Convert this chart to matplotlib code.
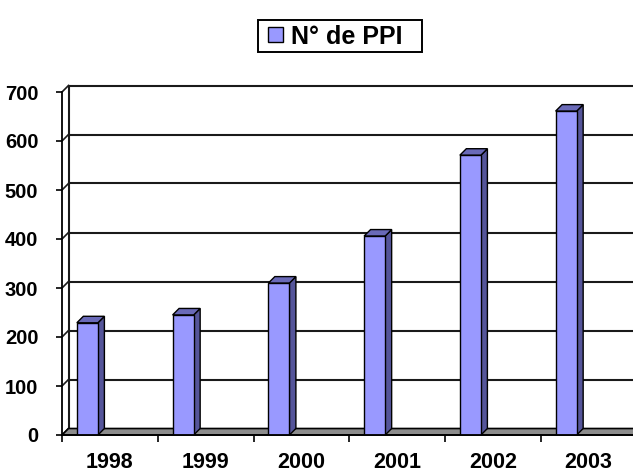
import matplotlib
matplotlib.use("Agg")
import matplotlib.pyplot as plt
from matplotlib.patches import Polygon, Rectangle

years = ["1998", "1999", "2000", "2001", "2002", "2003"]
ppi = [229, 245, 310, 406, 571, 661]
yticks = [0, 100, 200, 300, 400, 500, 600, 700]
legend_label = "N° de PPI"

FRONT = "#9999FF"
SIDE = "#55559A"
TOP = "#6A6AB8"

W, H = 633, 472
fig = plt.figure(figsize=(W / 100, H / 100), dpi=100)
fig.patch.set_facecolor("white")

ax_left, ax_right = 62, 636.5
ax_top, ax_bottom = 92, 435
ax = fig.add_axes([ax_left / W, 1 - ax_bottom / H,
                   (ax_right - ax_left) / W, (ax_bottom - ax_top) / H])
ax.set_xlim(-0.5, 5.5)
ax.set_ylim(0, 700)
ax.patch.set_alpha(0)

# pixel -> data offsets for the 3D depth
px_x = (ax_right - ax_left) / 6.0
px_y = (ax_bottom - ax_top) / 700.0
DEPTH = 6.5
ddx = DEPTH / px_x
ddy = DEPTH / px_y

# floor
floor = Polygon([(-0.5, 0), (5.6, 0), (5.6 + ddx, ddy), (-0.5 + ddx, ddy)],
                closed=True, facecolor="#8C8C8C", edgecolor="black", lw=1.2,
                zorder=1, clip_on=False)
ax.add_patch(floor)

# back wall gridlines and left wall
for v in yticks[1:]:
    ax.plot([-0.5 + ddx, 5.6], [v + ddy, v + ddy], color="#1a1a1a", lw=1.5,
            zorder=0.5, clip_on=False)
for v in yticks:
    ax.plot([-0.5, -0.5 + ddx], [v, v + ddy], color="#1a1a1a", lw=1.2,
            zorder=0.5, clip_on=False)
ax.plot([-0.5 + ddx, -0.5 + ddx], [ddy, 700 + ddy], color="#1a1a1a", lw=1.5,
        zorder=0.5, clip_on=False)

# bars with 3D faces
offset = -0.235
width = 0.22
xs = [i + offset for i in range(len(years))]
ax.bar(xs, ppi, width=width, color=FRONT, edgecolor="black", lw=1.0, zorder=3)
for x, h in zip(xs, ppi):
    x0, x1 = x - width / 2, x + width / 2
    side = Polygon([(x1, 0), (x1, h), (x1 + ddx, h + ddy), (x1 + ddx, ddy)],
                   closed=True, facecolor=SIDE, edgecolor="black", lw=1.0, zorder=2.5)
    top = Polygon([(x0, h), (x1, h), (x1 + ddx, h + ddy), (x0 + ddx, h + ddy)],
                  closed=True, facecolor=TOP, edgecolor="black", lw=1.0, zorder=2.5)
    ax.add_patch(side)
    ax.add_patch(top)

# axes styling
for s in ["top", "right"]:
    ax.spines[s].set_visible(False)
ax.spines["left"].set_linewidth(1.3)
ax.spines["bottom"].set_linewidth(1.3)
ax.spines["left"].set_zorder(4)
ax.spines["bottom"].set_zorder(4)

ax.set_yticks(yticks)
ax.set_yticklabels([str(v) for v in yticks])
ax.tick_params(axis="y", direction="out", length=4, width=1.2, pad=13,
               labelsize=14.5)
ax.set_xticks(range(len(years)))
ax.set_xticklabels(years)
ax.set_xticks([i - 0.5 for i in range(len(years) + 1)], minor=True)
ax.tick_params(axis="x", which="major", length=0, pad=12, labelsize=15.5)
ax.tick_params(axis="x", which="minor", direction="out", length=5, width=1.2)
for lab in ax.get_xticklabels() + ax.get_yticklabels():
    lab.set_fontfamily("Liberation Sans")
    lab.set_fontweight("bold")

# legend box (manual)
lx0, lx1, ly0, ly1 = 258, 422, 20, 52
fig.patches.append(Rectangle((lx0 / W, 1 - ly1 / H), (lx1 - lx0) / W, (ly1 - ly0) / H,
                             transform=fig.transFigure, facecolor="white",
                             edgecolor="black", lw=1.4))
fig.patches.append(Rectangle((268 / W, 1 - 42 / H), 15 / W, 15 / H,
                             transform=fig.transFigure, facecolor=FRONT,
                             edgecolor="black", lw=1.0))
fig.text(291 / W, 1 - 36.5 / H, legend_label, fontsize=18, fontweight="bold",
         family="Liberation Sans", va="center", ha="left")

fig.savefig("out.png", dpi=100)
